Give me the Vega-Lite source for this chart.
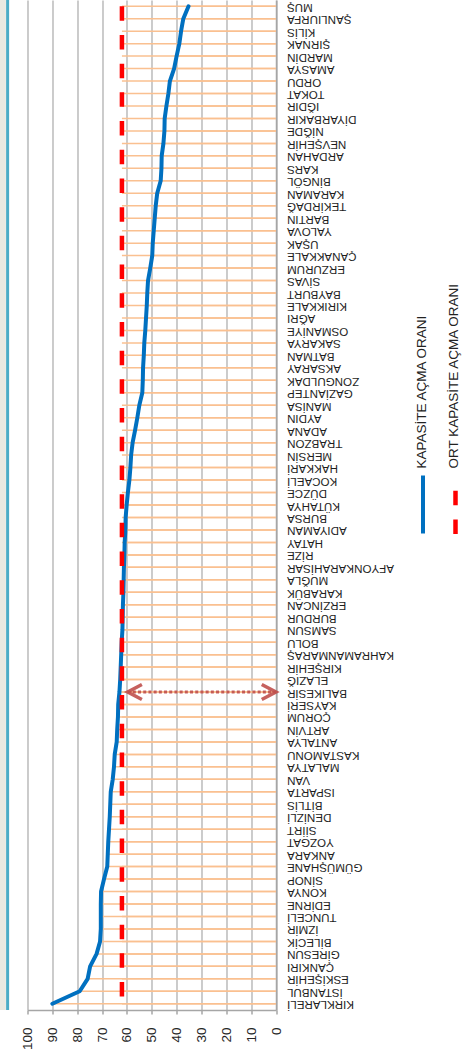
{
  "$schema": "https://vega.github.io/schema/vega-lite/v6.json",
  "width": 248.5,
  "height": 1010,
  "autosize": "none",
  "padding": {"left": 27.5, "top": 0, "right": 189, "bottom": 46},
  "background": "white",
  "config": {"view": {"stroke": null}, "font": "Liberation Sans"},
  "data": {"values": [
    {"il": "KIRKLARELİ", "oran": 90, "ort": 62},
    {"il": "İSTANBUL", "oran": 79, "ort": 62},
    {"il": "ESKİŞEHİR", "oran": 75.8, "ort": 62},
    {"il": "ÇANKIRI", "oran": 74.8, "ort": 62},
    {"il": "GİRESUN", "oran": 72.2, "ort": 62},
    {"il": "BİLECİK", "oran": 70.8, "ort": 62},
    {"il": "İZMİR", "oran": 70.5, "ort": 62},
    {"il": "TUNCELİ", "oran": 70.5, "ort": 62},
    {"il": "EDİRNE", "oran": 70.5, "ort": 62},
    {"il": "KONYA", "oran": 70.4, "ort": 62},
    {"il": "SİNOP", "oran": 69.2, "ort": 62},
    {"il": "GÜMÜŞHANE", "oran": 67.9, "ort": 62},
    {"il": "ANKARA", "oran": 67.7, "ort": 62},
    {"il": "YOZGAT", "oran": 67.5, "ort": 62},
    {"il": "SİİRT", "oran": 67.2, "ort": 62},
    {"il": "DENİZLİ", "oran": 66.9, "ort": 62},
    {"il": "BİTLİS", "oran": 66.7, "ort": 62},
    {"il": "ISPARTA", "oran": 66.5, "ort": 62},
    {"il": "VAN", "oran": 65.7, "ort": 62},
    {"il": "MALATYA", "oran": 65.2, "ort": 62},
    {"il": "KASTAMONU", "oran": 64.9, "ort": 62},
    {"il": "ANTALYA", "oran": 64.1, "ort": 62},
    {"il": "ARTVİN", "oran": 63.9, "ort": 62},
    {"il": "ÇORUM", "oran": 63.6, "ort": 62},
    {"il": "KAYSERİ", "oran": 63.5, "ort": 62},
    {"il": "BALIKESİR", "oran": 63.0, "ort": 62},
    {"il": "ELAZIĞ", "oran": 62.7, "ort": 62},
    {"il": "KIRŞEHİR", "oran": 62.5, "ort": 62},
    {"il": "KAHRAMANMARAŞ", "oran": 62.3, "ort": 62},
    {"il": "BOLU", "oran": 62.1, "ort": 62},
    {"il": "SAMSUN", "oran": 61.8, "ort": 62},
    {"il": "BURDUR", "oran": 61.7, "ort": 62},
    {"il": "ERZİNCAN", "oran": 61.6, "ort": 62},
    {"il": "KARABÜK", "oran": 61.4, "ort": 62},
    {"il": "MUĞLA", "oran": 61.3, "ort": 62},
    {"il": "AFYONKARAHİSAR", "oran": 61.2, "ort": 62},
    {"il": "RİZE", "oran": 61.0, "ort": 62},
    {"il": "HATAY", "oran": 60.9, "ort": 62},
    {"il": "ADIYAMAN", "oran": 60.6, "ort": 62},
    {"il": "BURSA", "oran": 60.5, "ort": 62},
    {"il": "KÜTAHYA", "oran": 60.1, "ort": 62},
    {"il": "DÜZCE", "oran": 59.6, "ort": 62},
    {"il": "KOCAELİ", "oran": 59.0, "ort": 62},
    {"il": "HAKKARİ", "oran": 58.6, "ort": 62},
    {"il": "MERSİN", "oran": 58.3, "ort": 62},
    {"il": "TRABZON", "oran": 57.7, "ort": 62},
    {"il": "ADANA", "oran": 56.7, "ort": 62},
    {"il": "AYDIN", "oran": 55.8, "ort": 62},
    {"il": "MANİSA", "oran": 55.0, "ort": 62},
    {"il": "GAZİANTEP", "oran": 53.8, "ort": 62},
    {"il": "ZONGULDAK", "oran": 53.6, "ort": 62},
    {"il": "AKSARAY", "oran": 53.5, "ort": 62},
    {"il": "BATMAN", "oran": 53.2, "ort": 62},
    {"il": "SAKARYA", "oran": 53.0, "ort": 62},
    {"il": "OSMANİYE", "oran": 52.6, "ort": 62},
    {"il": "AĞRI", "oran": 52.3, "ort": 62},
    {"il": "KIRIKKALE", "oran": 52.0, "ort": 62},
    {"il": "BAYBURT", "oran": 51.8, "ort": 62},
    {"il": "SİVAS", "oran": 51.5, "ort": 62},
    {"il": "ERZURUM", "oran": 50.6, "ort": 62},
    {"il": "ÇANAKKALE", "oran": 49.8, "ort": 62},
    {"il": "UŞAK", "oran": 49.6, "ort": 62},
    {"il": "YALOVA", "oran": 49.2, "ort": 62},
    {"il": "BARTIN", "oran": 48.8, "ort": 62},
    {"il": "TEKİRDAĞ", "oran": 48.4, "ort": 62},
    {"il": "KARAMAN", "oran": 47.8, "ort": 62},
    {"il": "BİNGÖL", "oran": 46.4, "ort": 62},
    {"il": "KARS", "oran": 46.1, "ort": 62},
    {"il": "ARDAHAN", "oran": 46.0, "ort": 62},
    {"il": "NEVŞEHİR", "oran": 45.3, "ort": 62},
    {"il": "NİĞDE", "oran": 44.9, "ort": 62},
    {"il": "DİYARBAKIR", "oran": 44.8, "ort": 62},
    {"il": "IĞDIR", "oran": 44.1, "ort": 62},
    {"il": "TOKAT", "oran": 43.3, "ort": 62},
    {"il": "ORDU", "oran": 42.7, "ort": 62},
    {"il": "AMASYA", "oran": 41.0, "ort": 62},
    {"il": "MARDİN", "oran": 40.0, "ort": 62},
    {"il": "ŞIRNAK", "oran": 38.9, "ort": 62},
    {"il": "KİLİS", "oran": 38.2, "ort": 62},
    {"il": "ŞANLIURFA", "oran": 37.3, "ort": 62},
    {"il": "MUŞ", "oran": 35.2, "ort": 62}
  ]},
  "layer": [
    {
      "mark": {"type": "rule", "color": "#FAC090", "strokeWidth": 1.5},
      "encoding": {
        "x": {"field": "oran", "type": "quantitative",
          "scale": {"domain": [0, 100], "reverse": true, "nice": false, "zero": false},
          "axis": {"title": "ORT KAPASİTE AÇMA ORANI", "orient": "bottom", "values": [0, 10, 20, 30, 40, 50, 60, 70, 80, 90, 100], "tickCount": 11,
            "grid": true, "gridColor": "#BFBFBF", "gridWidth": 1.6,
            "domain": true, "domainColor": "#A6A6A6", "domainWidth": 1.5,
            "ticks": true, "tickColor": "#A6A6A6", "tickSize": 4, "tickWidth": 1.5,
            "labelAngle": -90, "labelAlign": "right", "labelBaseline": "middle", "labelPadding": 13, "labelOverlap": false,
            "labelFont": "Liberation Sans", "labelFontSize": 13.5, "labelColor": "#262626",
            "titleAngle": 270, "titleAlign": "left", "titleBaseline": "middle", "titleX": 425.8, "titleY": -542,
            "titleFont": "Liberation Sans", "titleFontSize": 13.5, "titleFontWeight": "normal", "titleColor": "#222222", "titleLimit": 400}},
        "x2": {"datum": 0},
        "y": {"field": "il", "type": "nominal", "sort": null,
          "scale": {"type": "point", "padding": 0.5, "reverse": true},
          "axis": {"title": "KAPASİTE AÇMA ORANI", "orient": "right", "grid": false, "ticks": false, "tickSize": 0,
            "domain": true, "domainColor": "#A6A6A6", "domainWidth": 1.5,
            "labelAngle": 180, "labelAlign": "right", "labelBaseline": "middle", "labelPadding": 10.5,
            "labelOverlap": false, "labelFont": "Liberation Sans", "labelFontSize": 11.6, "labelColor": "#1E1E1E", "labelLimit": 300,
            "titleAngle": 270, "titleAlign": "left", "titleBaseline": "middle", "titleX": 145.7, "titleY": 468,
            "titleFont": "Liberation Sans", "titleFontSize": 13.5, "titleFontWeight": "normal", "titleColor": "#222222", "titleLimit": 400}}
      }
    },
    {
      "mark": {"type": "rule", "color": "#FAC090", "strokeWidth": 1.5},
      "encoding": {
        "x": {"field": "ort", "type": "quantitative", "axis": {"values": [0, 10, 20, 30, 40, 50, 60, 70, 80, 90, 100], "tickCount": 11}},
        "x2": {"datum": 0},
        "y": {"field": "il", "type": "nominal", "sort": null}
      }
    },
    {
      "data": {"values": [{}]},
      "mark": {"type": "rect", "color": "#E9E9E1"},
      "encoding": {
        "x": {"datum": 111.2, "type": "quantitative"},
        "x2": {"datum": 108.7}
      }
    },
    {
      "data": {"values": [{}]},
      "mark": {"type": "rule", "color": "#4BACC6", "strokeWidth": 3},
      "encoding": {
        "x": {"datum": 108, "type": "quantitative"}
      }
    },
    {
      "mark": {"type": "line", "strokeWidth": 4, "strokeJoin": "round", "strokeCap": "round"},
      "encoding": {
        "x": {"field": "oran", "type": "quantitative"},
        "y": {"field": "il", "type": "nominal", "sort": null},
        "color": {"datum": "KAPASİTE AÇMA ORANI", "type": "nominal",
          "scale": {"range": ["#0070C0"]},
          "legend": {"orient": "none", "legendX": 364.5, "legendY": 473.5, "title": null, "padding": 0,
            "symbolType": "M0,1L0,-1", "symbolSize": 3364, "symbolStrokeWidth": 4,
            "labelExpr": "''", "labelFontSize": 1}}
      }
    },
    {
      "mark": {"type": "line", "color": "#FF0000", "strokeWidth": 4.5},
      "encoding": {
        "x": {"field": "ort", "type": "quantitative"},
        "y": {"field": "il", "type": "nominal", "sort": null},
        "strokeDash": {"datum": "ORT KAPASİTE AÇMA ORANI", "type": "nominal",
          "scale": {"range": [[14.5, 14.2]]},
          "legend": {"orient": "none", "legendX": 397, "legendY": 474.5, "title": null, "padding": 0,
            "symbolType": "M0,1L0,-1", "symbolSize": 3249, "symbolStrokeWidth": 4.5, "symbolStrokeColor": "#FF0000",
            "labelExpr": "''", "labelFontSize": 1}}
      }
    },
    {
      "transform": [{"filter": "datum.il === 'BALIKESİR'"}],
      "mark": {"type": "rule", "color": "#C0504D", "strokeWidth": 3, "strokeDash": [3, 2.2], "opacity": 0.9},
      "encoding": {
        "x": {"datum": 59.7, "type": "quantitative"},
        "x2": {"datum": 0},
        "y": {"field": "il", "type": "nominal", "sort": null}
      }
    },
    {
      "transform": [{"filter": "datum.il === 'BALIKESİR'"}],
      "mark": {"type": "point", "shape": "M1.9,-1L0,0L1.9,1", "filled": false, "size": 225, "color": "#C0504D", "strokeWidth": 3.5, "opacity": 0.9},
      "encoding": {
        "x": {"datum": 59.7, "type": "quantitative"},
        "y": {"field": "il", "type": "nominal", "sort": null}
      }
    },
    {
      "transform": [{"filter": "datum.il === 'BALIKESİR'"}],
      "mark": {"type": "point", "shape": "M-1.9,-1L0,0L-1.9,1", "filled": false, "size": 225, "color": "#C0504D", "strokeWidth": 3.5, "opacity": 0.9},
      "encoding": {
        "x": {"datum": 0, "type": "quantitative"},
        "y": {"field": "il", "type": "nominal", "sort": null}
      }
    }
  ]
}
